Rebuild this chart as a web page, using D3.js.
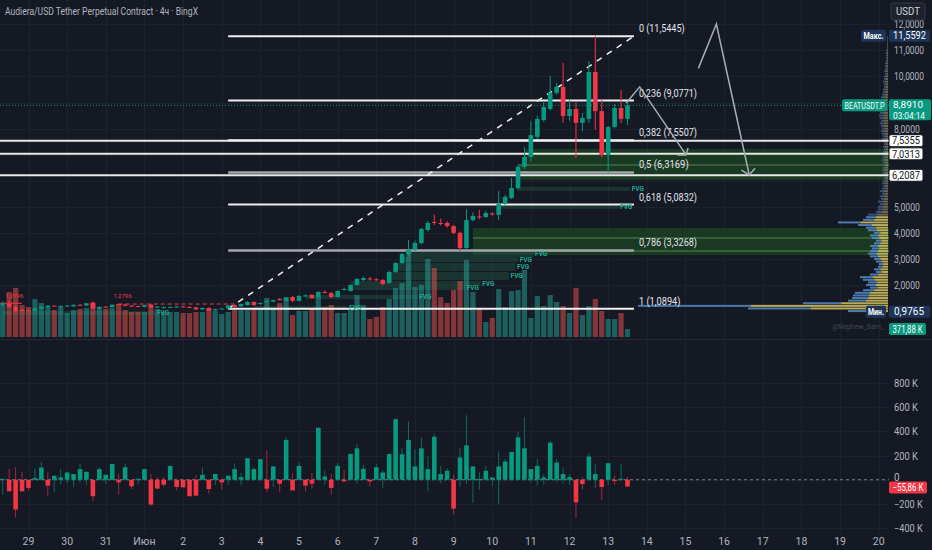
<!DOCTYPE html>
<html><head><meta charset="utf-8">
<script src="https://cdn.jsdelivr.net/npm/d3@7"></script>
<style>
html,body{margin:0;padding:0;background:#151924;overflow:hidden;}
svg{display:block;font-family:"Roboto","Noto Sans","DejaVu Sans",sans-serif;}
</style></head><body>
<svg id="c" width="932" height="550"></svg>
<script>
// ---------------- DATA ----------------
const title = "Audiera/USD Tether Perpetual Contract · 4ч · BingX";
const firstBar = -4; // 4h bars, bar 0 = 29 May 00:00
const dayLabels = ["29","30","31","Июн","2","3","4","5","6","7","8","9","10","11","12","13","14","15","16","17","18","19","20"];
const opens = [1.25,1.28,1.17,1.05,1.03,1.01,1.09,1.16,1.21,1.17,1.19,1.18,1.24,1.21,1.33,1.10,1.17,1.15,1.27,1.25,1.21,1.19,1.16,1.25,1.14,1.12,1.13,1.14,1.18,1.16,1.14,1.06,1.12,1.03,1.08,1.10,
 1.23,1.18,1.23,1.35,1.27,1.34,1.36,1.46,1.39,1.54,1.39,1.58,1.62,1.54,1.73,1.69,1.54,1.81,1.77,2.00,2.19,2.25,2.22,2.19,2.08,2.50,2.84,3.19,3.35,3.61,4.11,4.42,4.38,4.38,4.26,4.00,3.42,4.49,4.63,4.61,4.74,4.69,5.11,5.34,5.72,6.53,6.91,7.68,8.33,8.75,9.37,9.60,8.48,8.75,8.22,8.37,10.17,8.67,6.99,8.06,8.79,8.37];
const highs = [1.38,1.40,1.22,1.10,1.06,1.12,1.19,1.23,1.22,1.22,1.23,1.26,1.27,1.31,1.36,1.18,1.19,1.26,1.29,1.27,1.22,1.21,1.25,1.28,1.19,1.17,1.18,1.19,1.20,1.18,1.16,1.13,1.14,1.09,1.11,1.24,
 1.26,1.29,1.38,1.37,1.33,1.41,1.44,1.50,1.53,1.58,1.62,1.65,1.65,1.76,1.80,1.73,1.80,1.90,2.02,2.26,2.33,2.31,2.26,2.23,2.55,2.88,3.24,3.73,3.70,4.19,4.46,4.70,4.55,4.45,4.30,4.05,4.92,4.78,4.88,4.85,4.80,5.60,5.45,6.10,6.60,7.30,8.30,8.50,9.05,10.02,9.75,10.52,9.10,9.00,8.60,10.59,11.5592,9.10,8.10,8.94,9.48,9.00];
const lows = [1.20,1.12,0.9765,1.00,0.99,0.99,1.07,1.14,1.16,1.15,1.18,1.17,1.20,1.20,1.08,1.08,1.13,1.14,1.24,1.18,1.16,1.15,1.15,1.12,1.12,1.10,1.12,1.13,1.15,1.12,1.05,1.04,1.01,1.01,1.06,1.0894,
 1.14,1.16,1.21,1.20,1.24,1.32,1.34,1.40,1.37,1.34,1.37,1.55,1.47,1.52,1.68,1.50,1.52,1.79,1.75,1.98,2.15,2.17,2.15,1.98,2.05,2.46,2.80,3.10,3.30,3.55,4.05,4.30,4.28,4.20,3.95,3.28,3.35,4.44,4.52,4.57,4.66,4.50,5.05,5.30,5.65,6.45,6.75,7.60,8.25,8.70,9.30,8.22,8.30,6.87,7.90,8.22,7.95,6.90,6.30,8.00,8.20,8.14];
const closes = [1.30,1.15,0.99,1.02,1.01,1.10,1.17,1.21,1.18,1.20,1.21,1.24,1.22,1.30,1.10,1.16,1.15,1.24,1.25,1.20,1.18,1.17,1.23,1.14,1.17,1.15,1.16,1.18,1.16,1.13,1.06,1.12,1.02,1.08,1.10,1.22,
 1.16,1.27,1.35,1.23,1.31,1.39,1.42,1.42,1.50,1.39,1.58,1.60,1.50,1.73,1.70,1.54,1.77,1.85,2.00,2.23,2.27,2.21,2.19,2.04,2.50,2.84,3.19,3.35,3.61,4.15,4.38,4.38,4.34,4.26,4.00,3.42,4.49,4.65,4.60,4.76,4.71,5.11,5.38,5.72,6.53,6.91,7.75,8.37,8.83,9.37,9.60,8.48,8.75,8.22,8.41,10.17,8.67,6.99,8.06,8.79,8.37,8.891];
// volume, K
const volumes = [1581,2093,2279,1488,1395,1767,1581,1395,1256,1395,1116,1256,1302,1349,1581,1395,1302,1349,1535,1256,1163,1163,1163,1442,1302,1163,1163,1163,1116,1116,1163,1163,1302,1209,1070,1163,
 1256,1256,1256,1302,1302,1814,1302,1581,1860,1023,1209,1209,1302,1860,1395,1488,1116,1116,1302,1953,1488,837,930,1395,1767,2279,2511,3953,2325,2418,3627,3209,1860,1581,2186,2604,3581,2093,1349,698,884,2232,1395,2139,2186,3116,884,1907,1442,1953,1628,1442,1116,2279,1023,1442,1767,1209,837,837,1116,371.88];
// volume delta (lower pane), K
const deltaClose = [8,-96,-247,-96,-68,14,101,-49,33,19,60,47,88,66,-137,88,41,131,-22,104,-55,8,88,-206,-74,-41,115,-60,-63,-137,-132,41,-77,47,-22,33,
 88,22,178,88,170,-74,110,-33,329,-88,115,-49,-33,430,27,-68,115,-14,214,260,91,-14,104,60,214,502,211,329,110,260,88,356,47,74,-239,184,285,110,5,74,19,110,151,230,351,260,88,115,19,307,143,47,22,-187,-36,192,47,-60,137,-11,8,-55.86];
const deltaHigh = [8,90,104,66,0,93,148,60,33,88,60,47,137,66,0,104,41,131,49,137,0,8,88,47,22,22,115,11,0,0,41,104,0,47,14,33,
 137,55,178,104,170,241,110,0,351,55,148,0,55,436,77,49,137,82,218,296,123,0,132,77,218,508,260,483,252,351,192,384,115,96,41,260,535,110,60,115,19,233,170,234,398,521,88,173,47,321,173,104,47,0,19,219,132,0,137,33,132,22];
const deltaLow = [-123,-96,-313,-96,-90,0,0,-132,-104,-41,-27,-60,-22,-41,-178,0,-36,0,-123,0,-77,-41,0,-219,-74,-60,0,-88,-63,-137,-132,0,-115,-44,-82,-44,
 0,-44,0,0,0,-104,-60,-104,0,-88,0,-96,-74,0,-41,-123,0,-14,0,-33,0,-55,0,-71,0,0,0,0,0,0,-96,0,-27,0,-288,-55,-33,-192,-82,0,-49,-206,0,0,0,0,-22,-49,-41,0,-22,-27,-44,-315,-82,0,-68,-170,-44,-44,-8,-60];
// visible range volume profile (0.1 bins from 1.0 to 11.5)
const profileStart = 1.0, profileStep = 0.1;
const profileVol = [40,140,250,85,40,36,35,33,25,18,22,20,25,28,18,12,14,10,9,12,14,18,20,18,16,18,14,12,16,18,14,20,22,30,50,25,22,20,12,10,10,8,10,7,8,6,8,6,5,6,5,4,4,5,6,5,4,5,6,5,6,5,4,5,4,5,6,5,6,7,6,7,8,7,8,9,8,10,9,8,7,6,7,6,5,5,4,4,5,4,4,3,4,3,3,3,2,2,2,2,2,1,1,1,1,1];
// Fibonacci retracement
const fibRatios = ["0","0,236","0,382","0,5","0,618","0,786","1"];
const fibPrices = [11.5445,9.0771,7.5507,6.3169,5.0832,3.3268,1.0894];
const fibMuted = [false,false,false,true,false,true,false];
const fibFromBar = 31, fibToBar = 94;
// horizontal rays
const rayPrices = [7.5355,7.0313,6.2087];
// FVG zones [startBar, endBar, top, bottom]
const fvgStart = [76,73,59,58,57,56,50,50,43,35,-4];
const fvgEnd   = [94.6,92.8,79.6,77.2,76.8,75.8,71.4,69.0,61.6,50.7,20.9];
const fvgTop   = [5.76,5.07,3.30,3.07,2.84,2.50,2.15,1.96,1.62,1.19,1.00];
const fvgBot   = [5.61,4.92,3.07,2.88,2.54,2.19,1.96,1.81,1.46,1.04,0.85];
// big demand zones [startBar, top, bottom]
const zoneStart = [77,76,69];
const zoneTop = [7.22,6.60,4.19];
const zoneBot = [6.60,6.03,3.15];
const zoneInner = [6.60,3.80,3.30];
// drawn arrows, [bar, price] points
const arrow1 = [[92.8,8.98],[94.9,9.60],[102.1,6.99]];
const arrow1Head = [[100.7,6.99],[102.1,6.99],[102.4,7.26]];
const arrow2 = [[104.0,10.31],[106.8,12.01],[111.9,6.22]];
const arrow2Head = [[110.7,6.41],[111.9,6.22],[112.8,6.48]];
const priceTicks = [2,3,4,5,6,7,8,9,10,11,12];
const deltaTicks = [800,600,400,200,0,-200,-400];
const lastPrice = 8.891, maxPrice = 11.5592, minPrice = 0.9765, lastVolume = 371.88, lastDelta = -55.86;

// ---------------- DRAW ----------------
const BG="#151924", GRID="#1e222d", TXT="#b2b5be", UP="#089981", DN="#f23645";
const chartR = 889;
const svg = d3.select("#c");
const n = opens.length;
const bars = d3.range(n).map(i => ({
  b: i + firstBar, o: opens[i], h: highs[i], l: lows[i], c: closes[i],
  v: volumes[i], dc: deltaClose[i], dh: deltaHigh[i], dl: deltaLow[i]
}));

const xS = d3.scaleLinear().domain([0, 93]).range([28.5, 627.5]);
const yP = d3.scaleLinear().domain([2, 12]).range([285, 24.3]);
const yV = d3.scaleLinear().domain([0, 4000]).range([337, 251]);
const yD = d3.scaleLinear().domain([-400, 800]).range([528, 383.2]);
const bw = 4.6;
const fmtP = p => p.toFixed(4).replace(".", ",");
const fmtK = v => (v < 0 ? "−" : "") + Math.abs(v).toFixed(2).replace(".", ",") + " K";
const fit = (sel, w) => sel.attr("textLength", w).attr("lengthAdjust", "spacingAndGlyphs");

svg.append("rect").attr("width", 932).attr("height", 550).attr("fill", BG);
const defs = svg.append("defs");
defs.append("clipPath").attr("id", "cm").append("rect").attr("x", 0).attr("y", 0).attr("width", chartR).attr("height", 338);
defs.append("clipPath").attr("id", "cl").append("rect").attr("x", 0).attr("y", 341).attr("width", chartR).attr("height", 193);

// grid
const grid = svg.append("g");
dayLabels.forEach((d, k) => {
  const x = Math.round(xS(k * 6)) + 0.5;
  grid.append("line").attr("x1", x).attr("x2", x).attr("y1", 0).attr("y2", 338).attr("stroke", GRID);
  grid.append("line").attr("x1", x).attr("x2", x).attr("y1", 341).attr("y2", 534).attr("stroke", GRID);
});
priceTicks.forEach(p => {
  const y = Math.round(yP(p)) + 0.5;
  grid.append("line").attr("x1", 0).attr("x2", chartR).attr("y1", y).attr("y2", y).attr("stroke", GRID);
});
deltaTicks.forEach(v => {
  const y = Math.round(yD(v)) + 0.5;
  grid.append("line").attr("x1", 0).attr("x2", chartR).attr("y1", y).attr("y2", y).attr("stroke", GRID);
});
svg.append("line").attr("x1", 0).attr("x2", 932).attr("y1", 339.5).attr("y2", 339.5).attr("stroke", "#252935").attr("stroke-width", 1);

const main = svg.append("g").attr("clip-path", "url(#cm)");

// demand zones
zoneStart.forEach((s, i) => {
  main.append("rect").attr("x", xS(s)).attr("y", yP(zoneTop[i])).attr("width", chartR - xS(s))
    .attr("height", yP(zoneBot[i]) - yP(zoneTop[i])).attr("fill", "#1b3f22").attr("opacity", 0.85);
});
zoneInner.forEach((p, i) => {
  const s = i === 0 ? 76 : 69;
  main.append("line").attr("x1", xS(s)).attr("x2", chartR).attr("y1", yP(p)).attr("y2", yP(p))
    .attr("stroke", "#3f6b45").attr("stroke-width", 1.5);
});
// FVG bands
fvgStart.forEach((s, i) => {
  main.append("rect").attr("x", Math.max(0, xS(s))).attr("y", yP(fvgTop[i]))
    .attr("width", xS(fvgEnd[i] - 1.2) - Math.max(0, xS(s))).attr("height", yP(fvgBot[i]) - yP(fvgTop[i]))
    .attr("fill", "#1f4d3c").attr("opacity", 0.55);
});

// volume bars
main.selectAll(".vol").data(bars).join("rect")
  .attr("x", d => xS(d.b) - 2.6).attr("width", 5.2)
  .attr("y", d => yV(d.v)).attr("height", d => yV(0) - yV(d.v))
  .attr("fill", d => d.c >= d.o ? "rgba(38,166,154,0.5)" : "rgba(239,83,80,0.5)");

// volume profile
const profX = d3.scaleLinear().domain([0, d3.max(profileVol)]).range([0, 250]);
profileVol.forEach((v, i) => {
  const p = profileStart + i * profileStep;
  const y = yP(p) - 1;
  const len = profX(v);
  const inVA = p <= 4.6;
  const up = len * 0.45;
  main.append("rect").attr("x", 888 - len).attr("y", y).attr("width", up).attr("height", 2)
    .attr("fill", inVA ? "rgba(86,140,200,0.85)" : "rgba(80,120,170,0.6)");
  main.append("rect").attr("x", 888 - len + up).attr("y", y).attr("width", len - up).attr("height", 2)
    .attr("fill", inVA ? "rgba(214,196,96,0.85)" : "rgba(170,150,120,0.6)");
});

// red dashed level (left)
main.append("line").attr("x1", xS(14)).attr("x2", xS(32)).attr("y1", yP(1.27)).attr("y2", yP(1.27))
  .attr("stroke", DN).attr("stroke-dasharray", "4,3").attr("stroke-width", 1);
main.append("line").attr("x1", 0).attr("x2", xS(-1)).attr("y1", yP(1.30)).attr("y2", yP(1.30))
  .attr("stroke", DN).attr("stroke-width", 1);
[[-3.6, 1.50], [13.2, 1.50]].forEach(a => {
  main.append("text").attr("x", xS(a[0])).attr("y", yP(a[1])).attr("font-size", 6).attr("fill", DN).text("1,2796");
});

// horizontal rays
rayPrices.forEach(p => {
  main.append("line").attr("x1", 0).attr("x2", chartR).attr("y1", yP(p)).attr("y2", yP(p))
    .attr("stroke", "#e8e8e8").attr("stroke-width", 2);
});
// fib levels
fibPrices.forEach((p, i) => {
  main.append("line").attr("x1", xS(fibFromBar)).attr("x2", xS(fibToBar)).attr("y1", yP(p)).attr("y2", yP(p))
    .attr("stroke", fibMuted[i] ? "#a3a6ad" : "#f0f0f0").attr("stroke-width", fibMuted[i] ? 2.5 : 2);
  const label = `${fibRatios[i]} (${fmtP(p)})`;
  fit(main.append("text").attr("x", xS(fibToBar) + 5).attr("y", yP(p) - 4).attr("font-size", 10)
    .attr("fill", "#e0e3eb").text(label), label.length * 4.15);
});
// dashed trend line
main.append("line").attr("x1", xS(fibFromBar)).attr("y1", yP(fibPrices[6]))
  .attr("x2", xS(fibToBar)).attr("y2", yP(fibPrices[0]))
  .attr("stroke", "#f0f0f0").attr("stroke-width", 1.5).attr("stroke-dasharray", "6,6");

// FVG labels
fvgEnd.forEach((e, i) => {
  main.append("text").attr("x", xS(e)).attr("y", (yP(fvgTop[i]) + yP(fvgBot[i])) / 2 + 2.3)
    .attr("text-anchor", "middle").attr("font-size", 6.5).attr("font-weight", "bold")
    .attr("fill", "#1fa88f").text("FVG");
});

// candles
const cg = main.append("g");
cg.selectAll(".wick").data(bars).join("line")
  .attr("x1", d => xS(d.b)).attr("x2", d => xS(d.b))
  .attr("y1", d => yP(d.h)).attr("y2", d => yP(d.l))
  .attr("stroke", d => d.c >= d.o ? UP : DN).attr("stroke-width", 1);
cg.selectAll(".body").data(bars).join("rect")
  .attr("x", d => xS(d.b) - bw / 2).attr("width", bw)
  .attr("y", d => yP(Math.max(d.o, d.c)))
  .attr("height", d => Math.max(1, Math.abs(yP(d.o) - yP(d.c))))
  .attr("fill", d => d.c >= d.o ? UP : DN);

// current price line
main.append("line").attr("x1", 0).attr("x2", chartR).attr("y1", yP(lastPrice)).attr("y2", yP(lastPrice))
  .attr("stroke", UP).attr("stroke-dasharray", "1,2");

// arrows
const ln = d3.line().x(d => xS(d[0])).y(d => yP(d[1]));
[arrow1, arrow1Head, arrow2, arrow2Head].forEach(a => {
  main.append("path").attr("d", ln(a)).attr("fill", "none").attr("stroke", "#a9acb5").attr("stroke-width", 1.5);
});

// ---------- lower pane ----------
const low = svg.append("g").attr("clip-path", "url(#cl)");
low.append("line").attr("x1", 0).attr("x2", chartR).attr("y1", yD(0)).attr("y2", yD(0))
  .attr("stroke", "#787b86").attr("stroke-dasharray", "3,3");
low.selectAll(".dw").data(bars).join("line")
  .attr("x1", d => xS(d.b)).attr("x2", d => xS(d.b))
  .attr("y1", d => yD(d.dh)).attr("y2", d => yD(d.dl))
  .attr("stroke", d => d.dc >= 0 ? "#0b6b5c" : "#a3293a").attr("stroke-width", 1);
low.selectAll(".db").data(bars).join("rect")
  .attr("x", d => xS(d.b) - bw / 2).attr("width", bw)
  .attr("y", d => yD(Math.max(0, d.dc)))
  .attr("height", d => Math.max(1, Math.abs(yD(0) - yD(d.dc))))
  .attr("fill", d => d.dc >= 0 ? UP : DN);

// ---------- axes / labels ----------
fit(svg.append("text").attr("x", 5).attr("y", 15).attr("font-size", 11).attr("fill", TXT).text(title), 193);

// tag boxes on price scale (hide tick labels they cover)
const tagBands = [[yP(maxPrice) - 6, yP(maxPrice) + 6], [yP(lastPrice) - 6, yP(lastPrice) + 16],
  ...rayPrices.map(p => [yP(p) - 6, yP(p) + 6]), [yP(minPrice) - 6, yP(minPrice) + 6]];
priceTicks.forEach(p => {
  const y = yP(p);
  if (tagBands.some(b => y + 5 > b[0] && y - 5 < b[1])) return;
  fit(svg.append("text").attr("x", 894).attr("y", y + 4).attr("font-size", 10.5).attr("fill", TXT).text(fmtP(p)), fmtP(p).length * 4.3);
});
deltaTicks.forEach(v => {
  const s = v === 0 ? "0" : (v < 0 ? "−" : "") + Math.abs(v) + " K";
  const t = svg.append("text").attr("x", 894).attr("y", yD(v) + (v === 0 ? 1.5 : 4)).attr("font-size", 10).attr("fill", TXT).text(s);
  if (v !== 0) fit(t, s.length * 4.8);
});
dayLabels.forEach((d, k) => {
  svg.append("text").attr("x", xS(k * 6)).attr("y", 545).attr("text-anchor", "middle")
    .attr("font-size", 10.5).attr("fill", TXT).text(d);
});

function tag(x, y, w, h, fill, txt, txtFill, opts = {}) {
  svg.append("rect").attr("x", x).attr("y", y).attr("width", w).attr("height", h)
    .attr("rx", opts.rx ?? 2).attr("fill", fill).attr("stroke", opts.stroke || "none");
  const t = svg.append("text").attr("x", opts.anchor === "middle" ? x + w / 2 : x + (opts.pad ?? 4)).attr("y", y + h / 2 + 3.7)
    .attr("text-anchor", opts.anchor === "middle" ? "middle" : "start")
    .attr("font-size", opts.fs || 10.5).attr("font-weight", opts.fw || "normal").attr("fill", txtFill).text(txt);
  if (opts.tw) fit(t, opts.tw);
}
// USDT button
tag(891, 3, 34, 17, "#1e222d", "USDT", "#d1d4dc", {anchor: "middle", rx: 3, stroke: "#363a45", fs: 10, tw: 24});
// max
tag(861, yP(maxPrice) - 6, 25, 12, "#1c3558", "Макс.", "#ffffff", {fs: 8.5, fw: "bold", pad: 2.5, tw: 20});
tag(889, yP(maxPrice) - 6, 41, 12, "#1c3558", fmtP(maxPrice), "#ffffff", {tw: 33});
// current price
tag(842, yP(lastPrice) - 6, 45, 12, UP, "BEATUSDT.P", "#ffffff", {fs: 8.5, pad: 2.5, tw: 40});
svg.append("rect").attr("x", 889).attr("y", yP(lastPrice) - 6).attr("width", 42).attr("height", 21).attr("rx", 2).attr("fill", UP);
fit(svg.append("text").attr("x", 893).attr("y", yP(lastPrice) + 3).attr("font-size", 9.5).attr("fill", "#fff").text(fmtP(lastPrice)), 30);
fit(svg.append("text").attr("x", 893).attr("y", yP(lastPrice) + 13.3).attr("font-size", 8.5).attr("fill", "#fff").text("03:04:14"), 32);
// ray labels
rayPrices.forEach(p => tag(889, yP(p) - 6, 34, 12, "#ffffff", fmtP(p), "#131722", {stroke: "#131722", tw: 28, pad: 3}));
// min
tag(866, yP(minPrice) - 6, 20, 12, "#1c3558", "Мин.", "#ffffff", {fs: 8.5, fw: "bold", pad: 2, tw: 16});
tag(889, yP(minPrice) - 6, 41, 12, "#1c3558", fmtP(minPrice), "#ffffff", {tw: 30, pad: 5});
// watermark
fit(svg.append("text").attr("x", 832).attr("y", 329).attr("font-size", 7.5).attr("fill", "#434651").text("@Nephew_Sam_"), 52);
// last volume
tag(889, yV(lastVolume) - 6, 37, 12, UP, fmtK(lastVolume), "#ffffff", {fs: 10, tw: 30, pad: 3.5});
// last delta
tag(889, yD(lastDelta) - 5, 38, 12, DN, fmtK(lastDelta), "#ffffff", {fs: 10, tw: 31, pad: 3.5});
</script>
</body></html>
